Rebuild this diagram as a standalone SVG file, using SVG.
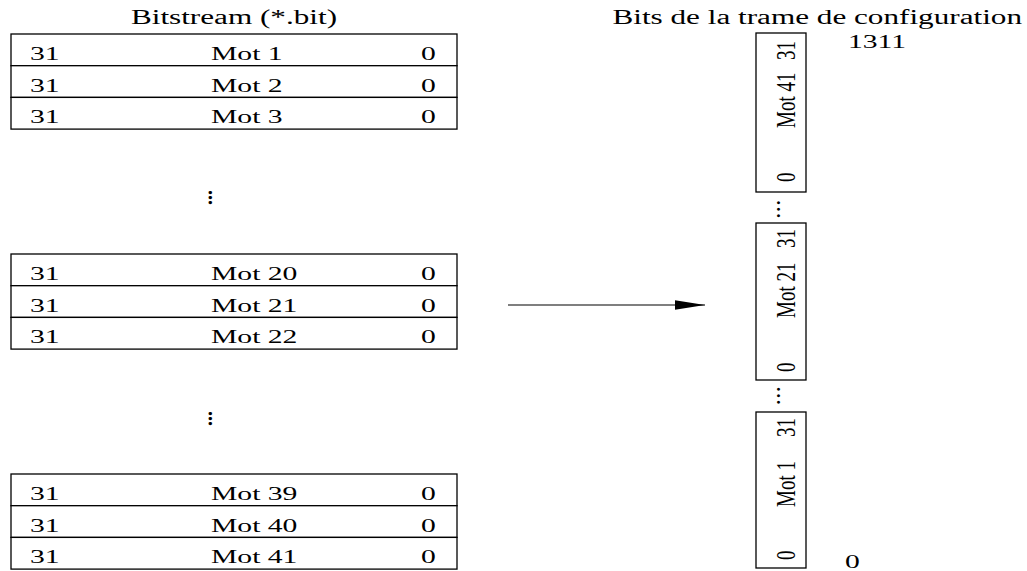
<svg xmlns="http://www.w3.org/2000/svg" width="1027" height="571" viewBox="0 0 1027 571">
<style>
.t{font-family:"Liberation Serif","Times New Roman",serif;font-size:19px;fill:#000}
.ti{font-family:"Liberation Serif","Times New Roman",serif;font-size:20px;fill:#000}
.row{fill:#fff;stroke:#000;stroke-width:1.3}
.box{fill:#fff;stroke:#000;stroke-width:1.3}
.dots{font-family:"Liberation Serif","Times New Roman",serif;font-size:20px;font-weight:bold;fill:#000}
.dotsr{font-family:"Liberation Serif","Times New Roman",serif;font-size:26px;fill:#000}
</style>
<defs>
<marker id="ah" markerUnits="userSpaceOnUse" markerWidth="30" markerHeight="10" refX="30" refY="4.7" orient="auto">
<path d="M0,0 L30,4.7 L0,9.4 z" fill="#000"/>
</marker>
</defs>
<rect width="1027" height="571" fill="#fff"/>
<text class="ti" text-anchor="middle" transform="translate(234,24) scale(1.56,1)">Bitstream (*.bit)</text>
<text class="ti" text-anchor="end" transform="translate(1022,24) scale(1.56,1)">Bits de la trame de configuration</text>

<g id="table1">
<rect class="row" x="11" y="34" width="446" height="31.7"/>
<rect class="row" x="11" y="65.7" width="446" height="31.7"/>
<rect class="row" x="11" y="97.4" width="446" height="31.7"/>
<text class="t" transform="translate(30,60) scale(1.56,1)">31</text>
<text class="t" transform="translate(211,60) scale(1.56,1)">Mot 1</text>
<text class="t" transform="translate(421,60) scale(1.56,1)">0</text>
<text class="t" transform="translate(30,91.7) scale(1.56,1)">31</text>
<text class="t" transform="translate(211,91.7) scale(1.56,1)">Mot 2</text>
<text class="t" transform="translate(421,91.7) scale(1.56,1)">0</text>
<text class="t" transform="translate(30,123.4) scale(1.56,1)">31</text>
<text class="t" transform="translate(211,123.4) scale(1.56,1)">Mot 3</text>
<text class="t" transform="translate(421,123.4) scale(1.56,1)">0</text>
</g>
<text class="dots" transform="translate(212,205) rotate(-90)">...</text>

<g id="table2">
<rect class="row" x="11" y="254" width="446" height="31.7"/>
<rect class="row" x="11" y="285.7" width="446" height="31.7"/>
<rect class="row" x="11" y="317.4" width="446" height="31.7"/>
<text class="t" transform="translate(30,280) scale(1.56,1)">31</text>
<text class="t" transform="translate(211,280) scale(1.56,1)">Mot 20</text>
<text class="t" transform="translate(421,280) scale(1.56,1)">0</text>
<text class="t" transform="translate(30,311.7) scale(1.56,1)">31</text>
<text class="t" transform="translate(211,311.7) scale(1.56,1)">Mot 21</text>
<text class="t" transform="translate(421,311.7) scale(1.56,1)">0</text>
<text class="t" transform="translate(30,343.4) scale(1.56,1)">31</text>
<text class="t" transform="translate(211,343.4) scale(1.56,1)">Mot 22</text>
<text class="t" transform="translate(421,343.4) scale(1.56,1)">0</text>
</g>
<text class="dots" transform="translate(212,426) rotate(-90)">...</text>

<g id="table3">
<rect class="row" x="11" y="474" width="446" height="31.7"/>
<rect class="row" x="11" y="505.7" width="446" height="31.7"/>
<rect class="row" x="11" y="537.4" width="446" height="31.7"/>
<text class="t" transform="translate(30,500) scale(1.56,1)">31</text>
<text class="t" transform="translate(211,500) scale(1.56,1)">Mot 39</text>
<text class="t" transform="translate(421,500) scale(1.56,1)">0</text>
<text class="t" transform="translate(30,531.7) scale(1.56,1)">31</text>
<text class="t" transform="translate(211,531.7) scale(1.56,1)">Mot 40</text>
<text class="t" transform="translate(421,531.7) scale(1.56,1)">0</text>
<text class="t" transform="translate(30,563.4) scale(1.56,1)">31</text>
<text class="t" transform="translate(211,563.4) scale(1.56,1)">Mot 41</text>
<text class="t" transform="translate(421,563.4) scale(1.56,1)">0</text>
</g>

<g id="connectors">
<line x1="508" y1="305" x2="705" y2="305" stroke="#555" stroke-width="1.3" marker-end="url(#ah)"/>
</g>

<text class="t" transform="translate(848,48) scale(1.56,1)">1311</text>

<g id="frame-mot41">
<rect class="box" x="756" y="33" width="50" height="159"/>
<text class="t" transform="translate(795,60) scale(1.4,1) rotate(-90)">31</text>
<text class="t" transform="translate(795,128) scale(1.4,1) rotate(-90)">Mot 41</text>
<text class="t" transform="translate(795,182) scale(1.4,1) rotate(-90)">0</text>
</g>
<text class="dotsr" transform="translate(779.5,219) rotate(-90)">...</text>

<g id="frame-mot21">
<rect class="box" x="756" y="223" width="50" height="157"/>
<text class="t" transform="translate(795,248) scale(1.4,1) rotate(-90)">31</text>
<text class="t" transform="translate(795,318) scale(1.4,1) rotate(-90)">Mot 21</text>
<text class="t" transform="translate(795,372) scale(1.4,1) rotate(-90)">0</text>
</g>
<text class="dotsr" transform="translate(779.5,405.5) rotate(-90)">...</text>

<g id="frame-mot1">
<rect class="box" x="756" y="412" width="50" height="156"/>
<text class="t" transform="translate(795,437) scale(1.4,1) rotate(-90)">31</text>
<text class="t" transform="translate(795,507) scale(1.4,1) rotate(-90)">Mot 1</text>
<text class="t" transform="translate(795,560) scale(1.4,1) rotate(-90)">0</text>
</g>
<text class="t" transform="translate(845,568) scale(1.56,1)">0</text>
</svg>
